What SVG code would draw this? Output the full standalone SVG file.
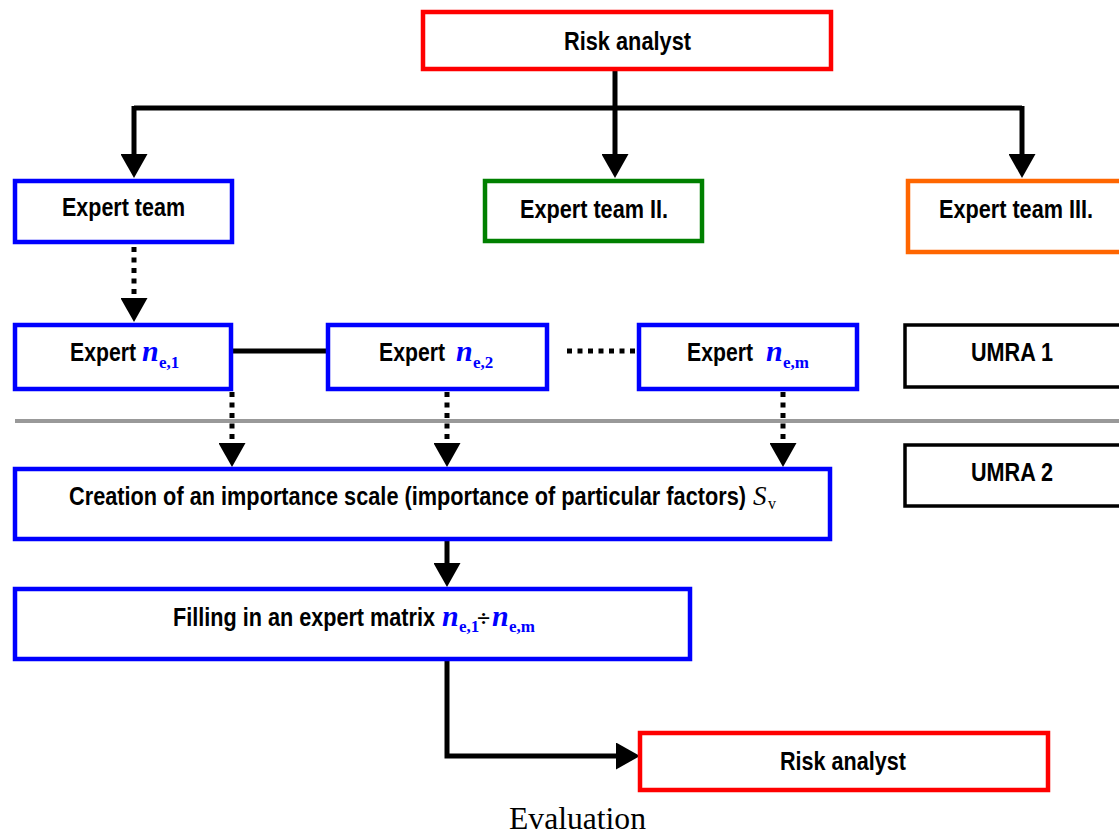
<svg xmlns="http://www.w3.org/2000/svg" width="1119" height="834" viewBox="0 0 1119 834">
<style>
.box{fill:#fff;stroke-width:4.5}
.red{stroke:#ff0000}.blue{stroke:#0000ff}.green{stroke:#008000}.orange{stroke:#ff6600}.blk{stroke:#000;stroke-width:3.5}
.t{font-family:"Liberation Sans",Arial,sans-serif;font-weight:bold;font-size:26px;fill:#000}
.m{font-family:"Liberation Serif","Times New Roman",serif;font-weight:bold;fill:#0000ff}
.n{font-style:italic;font-size:30px}
.sub{font-style:normal;font-size:17px}
.ln{fill:none;stroke:#000;stroke-width:5}
.dot{fill:none;stroke:#000;stroke-width:5;stroke-dasharray:5 5.5}
</style>
<defs>
<marker id="ah" viewBox="0 0 24 27" refX="0" refY="13.5" markerWidth="24" markerHeight="27" markerUnits="userSpaceOnUse" orient="auto">
<path d="M0,0 L24,13.5 L0,27 Z" fill="#000"/>
</marker>
</defs>
<line x1="15" y1="421" x2="1119" y2="421" stroke="#999999" stroke-width="4"/>
<g id="connectors">
<path class="ln" d="M615,71 V154" marker-end="url(#ah)"/>
<path class="ln" d="M134,108 H1022"/>
<path class="ln" d="M134,106 V154" marker-end="url(#ah)"/>
<path class="ln" d="M1022,106 V154" marker-end="url(#ah)"/>
<path class="dot" d="M134,247 V298" marker-end="url(#ah)"/>
<path class="ln" d="M232,351 H327" stroke-width="4.5"/>
<path class="dot" d="M567,351 H638"/>
<path class="dot" d="M232,392 V443" marker-end="url(#ah)"/>
<path class="dot" d="M447,392 V443" marker-end="url(#ah)"/>
<path class="dot" d="M783,392 V443" marker-end="url(#ah)"/>
<path class="ln" d="M447,540 V563" marker-end="url(#ah)"/>
<path class="ln" d="M447,660 V756 H616" marker-end="url(#ah)"/>
</g>
<g id="risk-analyst-top">
<rect class="box red" x="423" y="12" width="408" height="57"/>
<text class="t" x="564" y="50" textLength="127" lengthAdjust="spacingAndGlyphs">Risk analyst</text>
</g>
<g id="expert-team-1">
<rect class="box blue" x="15" y="181" width="217" height="61"/>
<text class="t" x="62" y="216" textLength="123" lengthAdjust="spacingAndGlyphs">Expert team</text>
</g>
<g id="expert-team-2">
<rect class="box green" x="485" y="181" width="217" height="60"/>
<text class="t" x="520" y="218" textLength="148" lengthAdjust="spacingAndGlyphs">Expert team II.</text>
</g>
<g id="expert-team-3">
<rect class="box orange" x="908" y="181" width="220" height="71"/>
<text class="t" x="939" y="218" textLength="154" lengthAdjust="spacingAndGlyphs">Expert team III.</text>
</g>
<g id="expert-1">
<rect class="box blue" x="15" y="325" width="216" height="64"/>
<text class="t" x="70" y="361" textLength="66" lengthAdjust="spacingAndGlyphs">Expert</text>
<text class="m" y="361"><tspan class="n" x="142">n</tspan><tspan class="sub" x="159" dy="7">e,1</tspan></text>
</g>
<g id="expert-2">
<rect class="box blue" x="328" y="325" width="219" height="64"/>
<text class="t" x="379" y="361" textLength="66" lengthAdjust="spacingAndGlyphs">Expert</text>
<text class="m" y="361"><tspan class="n" x="456">n</tspan><tspan class="sub" x="473" dy="7">e,2</tspan></text>
</g>
<g id="expert-m">
<rect class="box blue" x="639" y="325" width="218" height="64"/>
<text class="t" x="687" y="361" textLength="66" lengthAdjust="spacingAndGlyphs">Expert</text>
<text class="m" y="361"><tspan class="n" x="766">n</tspan><tspan class="sub" x="783" dy="7">e,m</tspan></text>
</g>
<g id="umra-1">
<rect class="box blk" x="905" y="325" width="220" height="62"/>
<text class="t" x="971" y="361" textLength="82" lengthAdjust="spacingAndGlyphs">UMRA 1</text>
</g>
<g id="umra-2">
<rect class="box blk" x="905" y="445" width="220" height="61"/>
<text class="t" x="971" y="481" textLength="82" lengthAdjust="spacingAndGlyphs">UMRA 2</text>
</g>
<g id="creation">
<rect class="box blue" x="15" y="469" width="815" height="70"/>
<text class="t" x="69" y="505" textLength="677" lengthAdjust="spacingAndGlyphs">Creation of an importance scale (importance of particular factors)</text>
<text y="505" font-family="Liberation Serif,'Times New Roman',serif" fill="#000"><tspan x="753" font-style="italic" font-size="27">S</tspan><tspan x="768" dy="4" font-size="16">v</tspan></text>
</g>
<g id="filling">
<rect class="box blue" x="15" y="589" width="675" height="70"/>
<text class="t" x="173" y="626" textLength="262" lengthAdjust="spacingAndGlyphs">Filling in an expert matrix</text>
<text class="m" y="626"><tspan class="n" x="442">n</tspan><tspan class="sub" x="459" dy="6">e,1</tspan><tspan x="477" dy="-6" font-size="24" fill="#000">÷</tspan><tspan class="n" x="492">n</tspan><tspan class="sub" x="509" dy="6">e,m</tspan></text>
</g>
<g id="risk-analyst-bottom">
<rect class="box red" x="640" y="733" width="408" height="57"/>
<text class="t" x="780" y="770" textLength="126" lengthAdjust="spacingAndGlyphs">Risk analyst</text>
</g>
<text x="509" y="829" font-family="Liberation Serif,'Times New Roman',serif" font-size="31" fill="#000" textLength="137" lengthAdjust="spacingAndGlyphs">Evaluation</text>
</svg>
